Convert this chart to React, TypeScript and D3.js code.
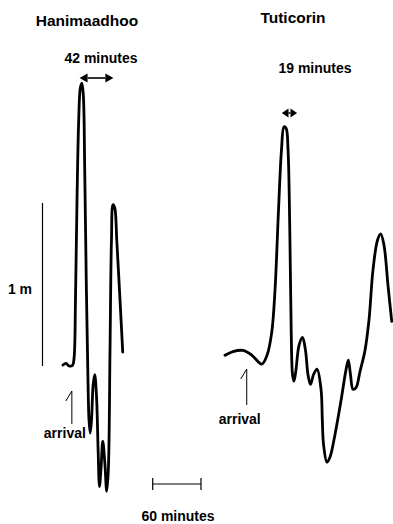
import React from "react";
import * as d3 from "d3";

// Sea-level records: time in minutes since the start of each trace, level in metres
const haniTime = [0, 3.7, 7.5, 11.8, 13.7, 15.5, 17.4, 19.5, 21.5, 23.4, 25.2, 27.0, 28.9, 30.8, 32.3, 33.8, 35.4, 37.5, 39.4, 41.6, 43.6, 45.3, 47.2, 49.4, 51.9, 54.3, 56.3, 58.4, 60.2, 62.1, 64.3, 66.8, 70.2, 74.2];
const haniLevel = [0, 0.01, -0.006, -0.003, 0.04, 0.4, 1.02, 1.51, 1.71, 1.74, 1.67, 1.2, 0.52, -0.03, -0.34, -0.42, -0.34, -0.12, -0.06, -0.19, -0.52, -0.75, -0.64, -0.47, -0.6, -0.78, -0.65, 0.09, 0.77, 0.99, 0.97, 0.77, 0.46, 0.08];

const tutiTime = [0, 9.9, 22.4, 33.5, 45.6, 52.2, 58.0, 62.1, 66.5, 70.2, 73.3, 76.0, 78.3, 80.5, 82.2, 83.9, 85.7, 88.2, 91.9, 96.3, 100.0, 103.1, 106.2, 109.9, 114.3, 119.3, 120.9, 122.4, 126.7, 130.4, 136.6, 144.1, 150.3, 153.2, 155.9, 159.0, 162.7, 167.7, 173.9, 178.9, 183.9, 189.4, 193.4, 197.5, 202.5, 207.1];
const tutiLevel = [0.06, 0.083, 0.09, 0.06, 0.006, 0.06, 0.2, 0.46, 0.96, 1.33, 1.47, 1.46, 1.33, 0.83, 0.22, -0.06, -0.1, -0.03, 0.12, 0.17, 0.09, -0.06, -0.12, -0.06, -0.025, -0.15, -0.34, -0.49, -0.6, -0.57, -0.43, -0.22, -0.03, 0.03, -0.06, -0.15, -0.14, -0.04, 0.09, 0.28, 0.59, 0.77, 0.81, 0.74, 0.49, 0.27];

// Stations, arrival times (minutes) and the labelled peak intervals
const stations = ["Hanimaadhoo", "Tuticorin"];
const arrivalTime = [11, 27];
const periodStart = [20.6, 70.6];
const periodMinutes = [42, 19];

// Scale bar values
const scaleBarMinutes = 60;
const scaleBarMetres = 1;

const FONT = "'Liberation Sans', Arial, Helvetica, sans-serif";

export default function App() {
  const W = 393;
  const H = 524;
  const pxPerMin = 0.805;

  const xHani = d3.scaleLinear().domain([0, 100]).range([63, 63 + 100 * pxPerMin]);
  const xTuti = d3.scaleLinear().domain([0, 100]).range([225, 225 + 100 * pxPerMin]);
  const y = d3.scaleLinear().domain([0, 1]).range([365, 203]);

  const line = (xs: d3.ScaleLinear<number, number>) =>
    d3
      .line<[number, number]>()
      .x((d) => xs(d[0]))
      .y((d) => y(d[1]))
      .curve(d3.curveCatmullRom.alpha(0.5));

  const haniPts = haniTime.map((t, i) => [t, haniLevel[i]] as [number, number]);
  const tutiPts = tutiTime.map((t, i) => [t, tutiLevel[i]] as [number, number]);

  const arrow = (x0: number, x1: number, yy: number, key: string) => {
    const half = (x1 - x0) / 2;
    const hl = Math.min(8, half - 1);
    const hw = 4.5;
    return (
      <g key={key}>
        <line x1={x0 + hl} x2={x1 - hl} y1={yy} y2={yy} stroke="#000" strokeWidth={1.6} />
        <path d={`M${x0},${yy}L${x0 + hl},${yy - hw}L${x0 + hl},${yy + hw}Z`} fill="#000" />
        <path d={`M${x1},${yy}L${x1 - hl},${yy - hw}L${x1 - hl},${yy + hw}Z`} fill="#000" />
      </g>
    );
  };

  const arrival = (xs: d3.ScaleLinear<number, number>, t: number, top: number, bottom: number, labelY: number, key: string) => {
    const x = xs(t);
    return (
      <g key={key}>
        <path d={`M${x - 6},${top + 10}L${x},${top}L${x},${bottom}`} fill="none" stroke="#000" strokeWidth={1} />
        <text x={x - 7} y={labelY} textAnchor="middle" fontFamily={FONT} fontWeight="bold" fontSize={14}>
          arrival
        </text>
      </g>
    );
  };

  const minuteLen = xHani(scaleBarMinutes) - xHani(0);
  const barX0 = 152.7;
  const barY = 484;

  return (
    <svg width={W} height={H} style={{ position: "absolute", left: 0, top: 0, background: "#fff" }}>
      <rect width={W} height={H} fill="#fff" />
      {/* station titles */}
      <text x={87} y={26} textAnchor="middle" fontFamily={FONT} fontWeight="bold" fontSize={15.5}>
        {stations[0]}
      </text>
      <text x={293} y={23} textAnchor="middle" fontFamily={FONT} fontWeight="bold" fontSize={15.5}>
        {stations[1]}
      </text>

      {/* peak interval annotations */}
      <text x={101} y={63} textAnchor="middle" fontFamily={FONT} fontWeight="bold" fontSize={14}>
        {`${periodMinutes[0]} minutes`}
      </text>
      {arrow(xHani(periodStart[0]), xHani(periodStart[0] + periodMinutes[0]), 78, "a0")}
      <text x={315} y={73} textAnchor="middle" fontFamily={FONT} fontWeight="bold" fontSize={14}>
        {`${periodMinutes[1]} minutes`}
      </text>
      {arrow(xTuti(periodStart[1]), xTuti(periodStart[1] + periodMinutes[1]), 113, "a1")}

      {/* vertical 1 m scale bar */}
      <line x1={42.5} x2={42.5} y1={y(0) + 1} y2={y(scaleBarMetres)} stroke="#000" strokeWidth={1.2} />
      <text x={20} y={294} textAnchor="middle" fontFamily={FONT} fontWeight="bold" fontSize={14}>
        {`${scaleBarMetres} m`}
      </text>

      {/* tide-gauge traces */}
      <path d={line(xHani)(haniPts) ?? ""} fill="none" stroke="#000" strokeWidth={2.8} strokeLinejoin="round" strokeLinecap="round" />
      <path d={line(xTuti)(tutiPts) ?? ""} fill="none" stroke="#000" strokeWidth={2.8} strokeLinejoin="round" strokeLinecap="round" />

      {/* arrival markers */}
      {arrival(xHani, arrivalTime[0], 391, 424, 438, "r0")}
      {arrival(xTuti, arrivalTime[1], 369, 405, 424, "r1")}

      {/* horizontal time scale bar */}
      <line x1={barX0} x2={barX0 + minuteLen} y1={barY} y2={barY} stroke="#000" strokeWidth={1.2} />
      <line x1={barX0} x2={barX0} y1={barY - 6} y2={barY + 6} stroke="#000" strokeWidth={1.2} />
      <line x1={barX0 + minuteLen} x2={barX0 + minuteLen} y1={barY - 6} y2={barY + 6} stroke="#000" strokeWidth={1.2} />
      <text x={178} y={521} textAnchor="middle" fontFamily={FONT} fontWeight="bold" fontSize={14}>
        {`${scaleBarMinutes} minutes`}
      </text>
    </svg>
  );
}
